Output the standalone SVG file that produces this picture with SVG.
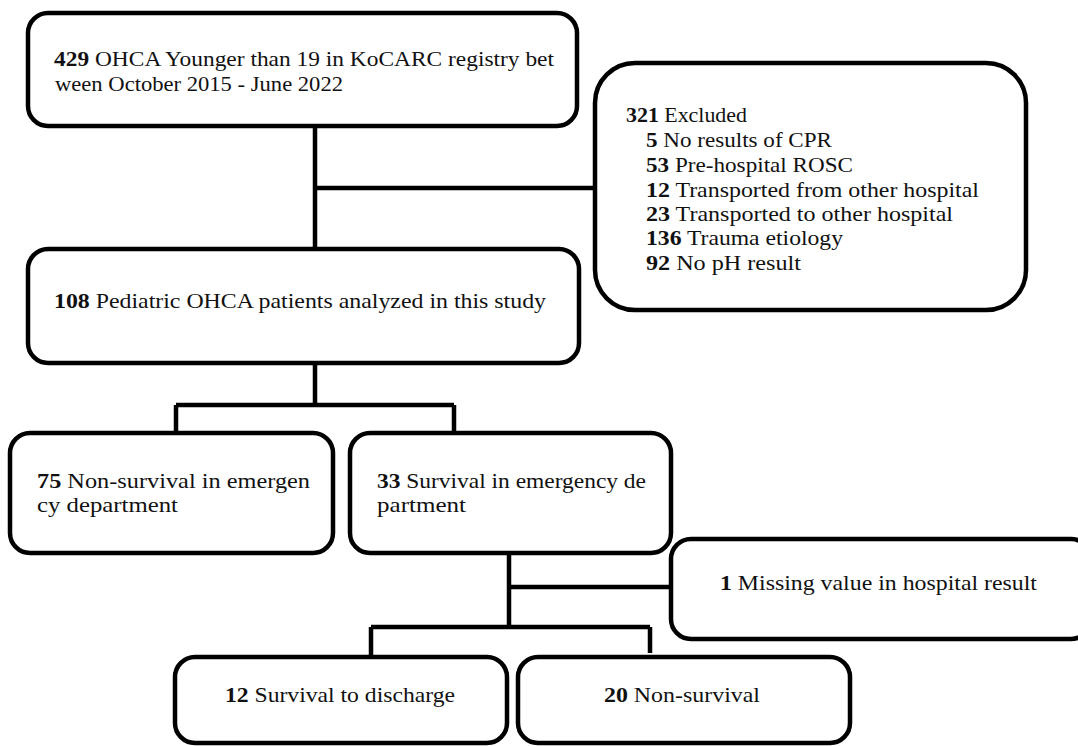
<svg xmlns="http://www.w3.org/2000/svg" width="1078" height="746" viewBox="0 0 1078 746">
<style>
.box{fill:#fff;stroke:#000;stroke-width:4.5}
.ln{fill:none;stroke:#000;stroke-width:4.5}
text{font-family:"Liberation Serif","Times New Roman",serif;font-size:21px;fill:#111}
.b{font-weight:bold}
</style>
<rect width="1078" height="746" fill="#fff"/>
<g id="connectors">
<path class="ln" d="M315 126V249M315 188H595"/>
<path class="ln" d="M315 363V405M176 405H454M176 405V433M454 405V433"/>
<path class="ln" d="M509 553V627M509 587H671M371 627H650M371 627V657M650 627V653"/>
</g>
<g id="n1">
<rect class="box" x="28" y="13" width="549" height="113" rx="20"/>
<text x="54" y="66" textLength="500" lengthAdjust="spacingAndGlyphs"><tspan class="b">429</tspan> OHCA Younger than 19 in KoCARC registry bet</text>
<text x="55" y="91" textLength="288" lengthAdjust="spacingAndGlyphs">ween October 2015 - June 2022</text>
</g>
<g id="n2">
<rect class="box" x="595" y="63" width="431" height="247" rx="40"/>
<text x="626" y="122" textLength="121" lengthAdjust="spacingAndGlyphs"><tspan class="b">321</tspan> Excluded</text>
<text x="646" y="147" textLength="186" lengthAdjust="spacingAndGlyphs"><tspan class="b">5</tspan> No results of CPR</text>
<text x="646" y="172" textLength="207" lengthAdjust="spacingAndGlyphs"><tspan class="b">53</tspan> Pre-hospital ROSC</text>
<text x="646" y="197" textLength="333" lengthAdjust="spacingAndGlyphs"><tspan class="b">12</tspan> Transported from other hospital</text>
<text x="646" y="221" textLength="307" lengthAdjust="spacingAndGlyphs"><tspan class="b">23</tspan> Transported to other hospital</text>
<text x="646" y="245" textLength="197" lengthAdjust="spacingAndGlyphs"><tspan class="b">136</tspan> Trauma etiology</text>
<text x="646" y="270" textLength="155" lengthAdjust="spacingAndGlyphs"><tspan class="b">92</tspan> No pH result</text>
</g>
<g id="n3">
<rect class="box" x="28" y="249" width="551" height="114" rx="20"/>
<text x="54" y="308" textLength="492" lengthAdjust="spacingAndGlyphs"><tspan class="b">108</tspan> Pediatric OHCA patients analyzed in this study</text>
</g>
<g id="n4">
<rect class="box" x="10" y="433" width="323" height="120" rx="20"/>
<text x="37" y="488" textLength="273" lengthAdjust="spacingAndGlyphs"><tspan class="b">75</tspan> Non-survival in emergen</text>
<text x="37" y="512" textLength="141" lengthAdjust="spacingAndGlyphs">cy department</text>
</g>
<g id="n5">
<rect class="box" x="350" y="433" width="321" height="120" rx="20"/>
<text x="377" y="488" textLength="269" lengthAdjust="spacingAndGlyphs"><tspan class="b">33</tspan> Survival in emergency de</text>
<text x="377" y="512" textLength="89" lengthAdjust="spacingAndGlyphs">partment</text>
</g>
<g id="n6">
<rect class="box" x="671" y="539" width="420" height="100" rx="20"/>
<text x="720" y="590" textLength="317" lengthAdjust="spacingAndGlyphs"><tspan class="b">1</tspan> Missing value in hospital result</text>
</g>
<g id="n7">
<rect class="box" x="175" y="657" width="332" height="86" rx="20"/>
<text x="225" y="702" textLength="230" lengthAdjust="spacingAndGlyphs"><tspan class="b">12</tspan> Survival to discharge</text>
</g>
<g id="n8">
<rect class="box" x="518" y="657" width="332" height="86" rx="20"/>
<text x="604" y="702" textLength="156" lengthAdjust="spacingAndGlyphs"><tspan class="b">20</tspan> Non-survival</text>
</g>
</svg>
